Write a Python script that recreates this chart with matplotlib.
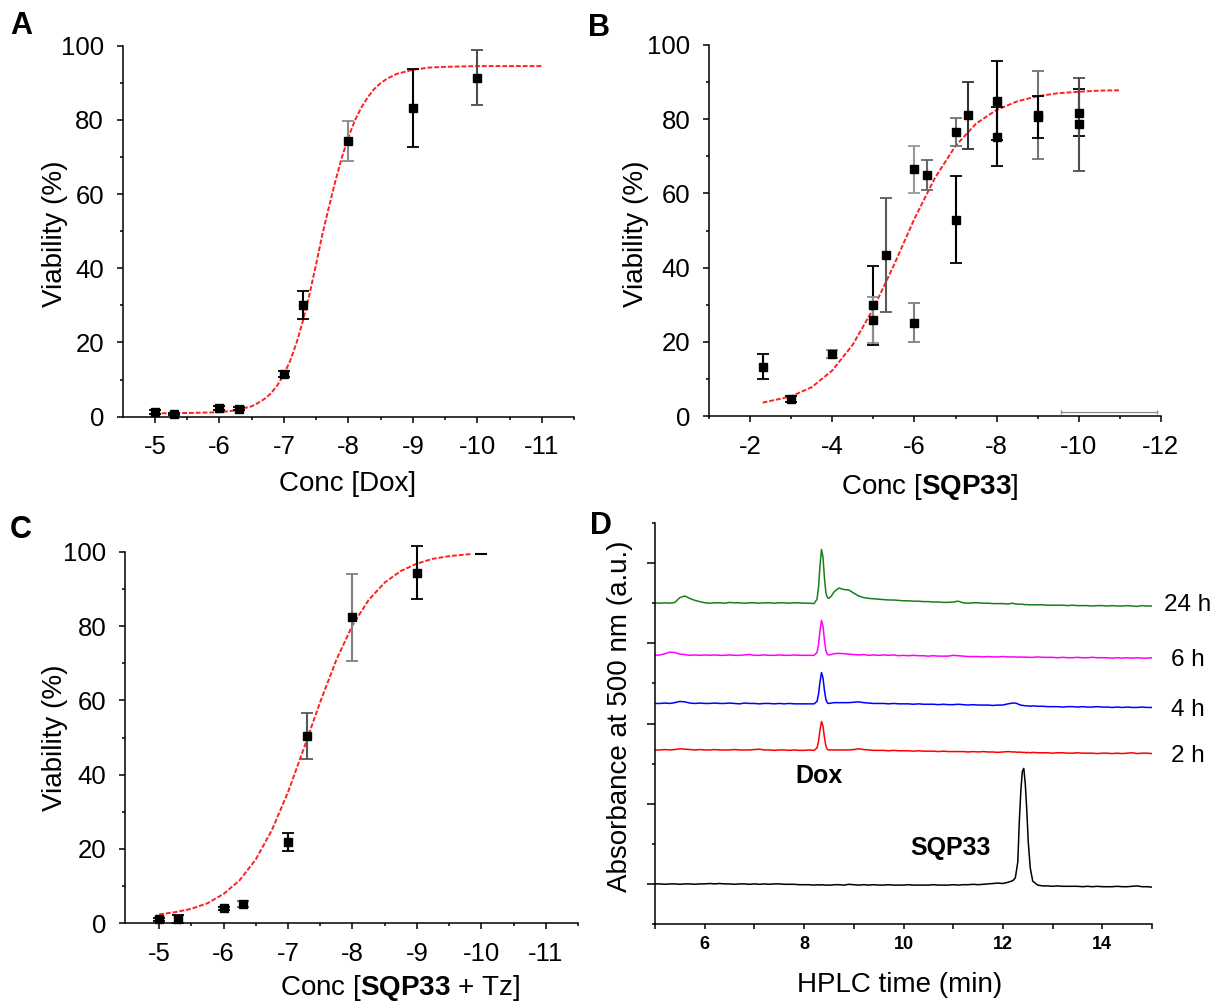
import matplotlib
matplotlib.use("Agg")
import matplotlib.pyplot as plt
from matplotlib.ticker import MultipleLocator, FixedLocator, NullFormatter

plt.rcParams['font.family'] = ['Liberation Sans', 'DejaVu Sans']
plt.rcParams['mathtext.fontset'] = 'custom'
plt.rcParams['mathtext.rm'] = 'Liberation Sans'
plt.rcParams['mathtext.bf'] = 'Liberation Sans:bold'

# ---------------- data ----------------
# Panel A (Dox)
a_x = [-5, -5.3, -6, -6.3, -7, -7.3, -8, -9, -10]
a_y = [1.2, 0.7, 2.4, 2.2, 11.4, 30.0, 74.3, 83.2, 91.4]
a_err = [0.5, 0.3, 0.5, 0.5, 0.8, 3.8, 5.5, 10.4, 7.4]
a_errcol = ['k', 'k', 'k', 'k', 'k', 'k', '0.55', 'k', '0.3']
a_fit_x = [-5, -5.5, -6, -6.25, -6.5, -6.6, -6.7, -6.8, -6.9, -7, -7.1, -7.2, -7.3,
           -7.4, -7.5, -7.6, -7.7, -7.8, -7.9, -8, -8.1, -8.2, -8.3, -8.4, -8.5,
           -8.6, -8.75, -9, -9.25, -9.5, -10, -10.5, -11]
a_fit_y = [0.9, 1.0, 1.2, 1.7, 2.8, 3.7, 4.8, 6.3, 8.5, 11.4, 15.2, 20.1, 26.1,
           33.2, 41.1, 49.4, 56.6, 63.6, 69.9, 75.3, 79.8, 83.3, 86.1, 88.3, 89.9,
           91.1, 92.4, 93.5, 94.1, 94.3, 94.5, 94.5, 94.5]

# Panel B (SQP33)
b_x = [-2.3, -3, -4, -5, -5, -5.3, -6, -6, -6.3, -7, -7, -7.3, -8, -8, -9, -9, -10, -10]
b_y = [13.3, 4.7, 16.7, 29.8, 25.9, 43.4, 66.5, 25.2, 64.9, 76.5, 52.9, 81.1,
       85.0, 75.3, 81.2, 80.6, 81.8, 78.6]
b_err = [3.3, 0.8, 1.2, 10.6, 6.3, 15.3, 6.3, 5.2, 4.1, 3.8, 11.7, 9.0,
         10.7, 8.0, 11.8, 5.6, 6.3, 12.6]
b_errcol = ['k', 'k', '0.5', 'k', '0.55', '0.35', '0.6', '0.5', '0.4', '0.45', 'k', '0.2',
            'k', 'k', '0.45', 'k', 'k', '0.3']
b_fit_x = [-2.3, -3, -3.5, -4, -4.5, -5, -5.5, -6, -6.5, -7, -7.5, -8,
           -8.5, -9, -9.5, -10, -10.5, -11]
b_fit_y = [3.6, 5.3, 7.8, 12.3, 19.3, 29.0, 40.7, 53.2, 64.2, 72.8, 78.8, 82.5,
           84.8, 86.2, 87.0, 87.4, 87.7, 87.8]
b_blank_x = [-9.58, -11.92]
b_blank_y = [1.0, 1.0]

# Panel C (SQP33 + Tz)
c_x = [-5, -5.3, -6, -6.3, -7, -7.3, -8, -9]
c_y = [1.1, 1.1, 4.0, 5.2, 21.9, 50.4, 82.3, 94.3]
c_err = [0.4, 1.0, 0.4, 0.9, 2.4, 6.3, 11.8, 7.1]
c_errcol = ['k', 'k', 'k', '0.4', 'k', '0.35', '0.5', 'k']
c_dash_x = [-10]
c_dash_y = [99.4]
c_fit_x = [-5, -5.25, -5.5, -5.75, -6, -6.25, -6.5, -6.75, -7, -7.25, -7.5, -7.75,
           -8, -8.25, -8.5, -8.75, -9, -9.25, -9.5, -9.85]
c_fit_y = [2.4, 3.0, 3.9, 5.4, 7.9, 11.6, 17.2, 25.1, 35.3, 47.3, 59.6, 70.9,
           80.2, 87.0, 91.7, 94.8, 96.8, 98.1, 98.8, 99.4]

# Panel D (HPLC traces), common time grid (min)
hplc_t = [5.0, 5.1, 5.2, 5.3, 5.4, 5.5, 5.6, 5.7, 5.8, 5.9, 6.0, 6.1, 6.2, 6.3, 6.4,
          6.5, 6.6, 6.7, 6.8, 6.9, 7.0, 7.1, 7.2, 7.3, 7.4, 7.5, 7.6, 7.7, 7.8, 7.9,
          8.0, 8.1, 8.2,
          8.26, 8.29, 8.32, 8.35, 8.38, 8.41, 8.44, 8.47, 8.5, 8.55,
          8.6, 8.7, 8.8, 8.9, 9.0, 9.1, 9.2, 9.3, 9.4, 9.5, 9.6, 9.7, 9.8, 9.9,
          10.0, 10.1, 10.2, 10.3, 10.4, 10.5, 10.6, 10.7, 10.8, 10.9, 11.0, 11.1,
          11.2, 11.3, 11.4, 11.5, 11.6, 11.7, 11.8, 11.9, 12.0,
          12.1, 12.2, 12.25, 12.3, 12.33, 12.36, 12.39, 12.42, 12.45, 12.48, 12.51,
          12.55, 12.6, 12.7,
          12.8, 12.9, 13.0, 13.1, 13.2, 13.3, 13.4, 13.5, 13.6, 13.7, 13.8, 13.9,
          14.0, 14.1, 14.2, 14.3, 14.4, 14.5, 14.6, 14.7, 14.8, 14.9, 15.0]

trace_24h = [8.01, 8.00, 8.01, 8.00, 8.02, 8.14, 8.18, 8.12, 8.07, 8.04, 8.01, 8.00, 8.01, 8.01, 8.00,
             8.02, 8.01, 8.01, 8.00, 8.01, 8.01, 8.00, 8.01, 8.01, 8.00, 8.01, 8.01, 8.00, 8.01, 8.01,
             8.00, 8.00, 7.99,
             8.10, 8.40, 8.95, 9.34, 9.15, 8.62, 8.25, 8.14, 8.12, 8.18,
             8.28, 8.38, 8.34, 8.33, 8.25, 8.18, 8.14, 8.12, 8.11, 8.10, 8.09, 8.08, 8.08, 8.07,
             8.06, 8.06, 8.05, 8.05, 8.04, 8.04, 8.03, 8.03, 8.02, 8.02, 8.03, 8.05,
             8.01, 8.00, 8.01, 8.01, 8.00, 8.00, 7.99, 7.99, 7.99,
             7.98, 8.00, 7.98, 7.98, 7.97, 7.98, 7.97, 7.97, 7.96, 7.97, 7.96,
             7.96, 7.96, 7.96,
             7.96, 7.95, 7.95, 7.95, 7.95, 7.94, 7.95, 7.94, 7.94, 7.94, 7.93, 7.94,
             7.94, 7.93, 7.94, 7.93, 7.93, 7.94, 7.93, 7.92, 7.94, 7.93, 7.93]

trace_6h = [6.70, 6.71, 6.74, 6.78, 6.77, 6.73, 6.72, 6.70, 6.71, 6.70, 6.71, 6.70, 6.71, 6.70, 6.70,
            6.71, 6.70, 6.70, 6.71, 6.72, 6.70, 6.70, 6.71, 6.70, 6.70, 6.71, 6.70, 6.70, 6.71, 6.70,
            6.70, 6.70, 6.70,
            6.77, 6.96, 7.32, 7.57, 7.43, 7.07, 6.81, 6.72, 6.71, 6.72,
            6.74, 6.75, 6.74, 6.73, 6.72, 6.71, 6.72, 6.70, 6.71, 6.70, 6.71, 6.70, 6.71, 6.69,
            6.70, 6.69, 6.70, 6.69, 6.69, 6.68, 6.69, 6.68, 6.68, 6.68, 6.70, 6.69,
            6.68, 6.67, 6.67, 6.67, 6.66, 6.67, 6.66, 6.66, 6.67,
            6.66, 6.66, 6.66, 6.65, 6.66, 6.66, 6.65, 6.66, 6.65, 6.66, 6.65,
            6.65, 6.65, 6.66,
            6.65, 6.65, 6.65, 6.64, 6.65, 6.64, 6.64, 6.65, 6.64, 6.64, 6.65, 6.64,
            6.64, 6.64, 6.63, 6.64, 6.63, 6.64, 6.63, 6.64, 6.63, 6.63, 6.64]

trace_4h = [5.50, 5.50, 5.51, 5.50, 5.52, 5.55, 5.54, 5.51, 5.50, 5.51, 5.50, 5.50, 5.51, 5.50, 5.50,
            5.51, 5.50, 5.49, 5.51, 5.50, 5.50, 5.49, 5.50, 5.50, 5.49, 5.50, 5.49, 5.50, 5.49, 5.49,
            5.49, 5.49, 5.49,
            5.55, 5.73, 6.04, 6.27, 6.14, 5.82, 5.59, 5.51, 5.50, 5.51,
            5.52, 5.52, 5.52, 5.52, 5.53, 5.54, 5.52, 5.51, 5.50, 5.50, 5.50, 5.49, 5.50, 5.49,
            5.49, 5.49, 5.48, 5.49, 5.48, 5.48, 5.48, 5.47, 5.48, 5.47, 5.47, 5.48,
            5.47, 5.46, 5.47, 5.46, 5.46, 5.46, 5.45, 5.46, 5.46,
            5.49, 5.51, 5.51, 5.49, 5.47, 5.46, 5.45, 5.45, 5.44, 5.44, 5.44,
            5.43, 5.44, 5.43,
            5.43, 5.42, 5.42, 5.42, 5.41, 5.42, 5.42, 5.41, 5.42, 5.41, 5.41, 5.42,
            5.41, 5.41, 5.40, 5.41, 5.40, 5.41, 5.40, 5.40, 5.41, 5.40, 5.40]

trace_2h = [4.34, 4.34, 4.35, 4.34, 4.35, 4.37, 4.36, 4.35, 4.34, 4.35, 4.34, 4.34, 4.35, 4.34, 4.34,
            4.34, 4.35, 4.34, 4.34, 4.34, 4.35, 4.36, 4.34, 4.34, 4.33, 4.34, 4.34, 4.33, 4.34, 4.33,
            4.33, 4.34, 4.33,
            4.39, 4.55, 4.84, 5.05, 4.94, 4.64, 4.43, 4.35, 4.34, 4.34,
            4.34, 4.34, 4.34, 4.34, 4.35, 4.37, 4.35, 4.34, 4.33, 4.33, 4.33, 4.32, 4.33, 4.32,
            4.32, 4.32, 4.31, 4.32, 4.31, 4.31, 4.31, 4.30, 4.31, 4.30, 4.30, 4.30,
            4.30, 4.29, 4.30, 4.29, 4.30, 4.29, 4.29, 4.28, 4.29,
            4.30, 4.29, 4.29, 4.28, 4.29, 4.28, 4.28, 4.28, 4.28, 4.27, 4.28,
            4.27, 4.28, 4.27,
            4.27, 4.27, 4.26, 4.27, 4.27, 4.26, 4.26, 4.27, 4.26, 4.26, 4.26, 4.25,
            4.26, 4.26, 4.25, 4.26, 4.25, 4.26, 4.27, 4.25, 4.26, 4.26, 4.25]

trace_sqp33 = [1.00, 1.00, 0.99, 1.00, 1.00, 0.99, 1.00, 1.00, 0.99, 1.00, 1.00, 1.01, 1.00, 1.01, 1.00,
               1.00, 0.99, 1.00, 1.00, 0.99, 1.00, 0.99, 1.00, 0.99, 1.00, 1.00, 0.99, 0.99, 0.99, 0.98,
               0.98, 0.98, 0.97,
               0.98, 0.97, 0.98, 0.97, 0.98, 0.97, 0.97, 0.97, 0.97, 0.97,
               0.98, 0.98, 0.97, 0.99, 0.98, 0.97, 0.98, 0.97, 0.98, 0.97, 0.97, 0.98, 0.97, 0.97,
               0.97, 0.98, 0.97, 0.97, 0.97, 0.97, 0.98, 0.97, 0.97, 0.97, 0.98, 0.97,
               0.98, 0.98, 0.99, 0.98, 0.99, 1.00, 1.01, 1.02, 1.01,
               1.04, 1.08, 1.15, 1.55, 2.55, 3.30, 3.80, 3.88, 3.50, 2.85, 2.05,
               1.40, 1.07, 0.97,
               0.95, 0.95, 0.94, 0.95, 0.94, 0.94, 0.94, 0.94, 0.93, 0.94, 0.93, 0.94,
               0.93, 0.93, 0.93, 0.94, 0.93, 0.93, 0.94, 0.95, 0.93, 0.93, 0.92]

trace_labels = ['24 h', '6 h', '4 h', '2 h']
trace_colors = ['#1a7f1a', '#ff00ff', '#0000ff', '#ff0000']

# ---------------- figure ----------------
W, H = 1225, 1008
fig = plt.figure(figsize=(W / 100, H / 100), dpi=100)


def ax_px(left, top, right, bottom):
    return fig.add_axes([left / W, 1 - bottom / H, (right - left) / W, (bottom - top) / H])


def style(ax):
    for s in ['top', 'right']:
        ax.spines[s].set_visible(False)
    for s in ['left', 'bottom']:
        ax.spines[s].set_linewidth(1.1)
    ax.tick_params(which='major', direction='out', length=4.5, width=1.1, labelsize=18.5, pad=9)
    ax.tick_params(which='minor', direction='out', length=2.5, width=1.1)


def dose_panel(ax, xs, ys, errs, errcols, fx, fy, xlim, major, minor):
    ax.plot(fx, fy, color='#ff2020', lw=1.4, ls=(0, (2.5, 1.0)), zorder=2, clip_on=False)
    for x, y, e, c in zip(xs, ys, errs, errcols):
        ax.errorbar([x], [y], yerr=[e], fmt='none', ecolor=c, elinewidth=1.5,
                    capsize=4, capthick=1.3, zorder=3, clip_on=False)
    ax.plot(xs, ys, 's', color='k', ms=5.5, zorder=4, clip_on=False)
    ax.set_xlim(*xlim)
    ax.set_ylim(0, 100)
    ax.xaxis.set_major_locator(FixedLocator(major))
    ax.xaxis.set_minor_locator(FixedLocator(minor))
    ax.set_xticklabels([str(v) for v in major])
    ax.yaxis.set_major_locator(MultipleLocator(20))
    ax.yaxis.set_minor_locator(MultipleLocator(10))
    style(ax)


# Panel A
axA = ax_px(122.7, 45.7, 574, 416.7)
dose_panel(axA, a_x, a_y, a_err, a_errcol, a_fit_x, a_fit_y, (-4.5, -11.5),
           [-5, -6, -7, -8, -9, -10, -11], [-5.5, -6.5, -7.5, -8.5, -9.5, -10.5, -11.5])

# Panel B
axB = ax_px(709.3, 45.0, 1160.7, 416.0)
dose_panel(axB, b_x, b_y, b_err, b_errcol, b_fit_x, b_fit_y, (-1, -12),
           [-2, -4, -6, -8, -10, -12], [-1, -3, -5, -7, -9, -11])
axB.plot(b_blank_x, b_blank_y, color='0.55', lw=0.9, marker='|', ms=3, zorder=1)

# Panel C
axC = ax_px(125, 551.7, 578, 923.3)
dose_panel(axC, c_x, c_y, c_err, c_errcol, c_fit_x, c_fit_y, (-4.47, -11.5),
           [-5, -6, -7, -8, -9, -10, -11], [-5.5, -6.5, -7.5, -8.5, -9.5, -10.5, -11.5])
axC.plot(c_dash_x, c_dash_y, '_', color='k', ms=9, mew=1.5, clip_on=False)

# Panel D
axD = ax_px(655, 523, 1152, 924)
for ys, col in zip([trace_24h, trace_6h, trace_4h, trace_2h], trace_colors):
    axD.plot(hplc_t, ys, color=col, lw=1.1)
axD.plot(hplc_t, trace_sqp33, color='k', lw=1.1)
axD.set_xlim(5, 15)
axD.set_ylim(0, 10)
axD.xaxis.set_major_locator(FixedLocator([6, 8, 10, 12, 14]))
axD.xaxis.set_minor_locator(FixedLocator([5, 7, 9, 11, 13, 15]))
axD.yaxis.set_major_locator(FixedLocator([1, 3, 5, 7, 9]))
axD.yaxis.set_minor_locator(FixedLocator([0, 2, 4, 6, 8, 10]))
axD.yaxis.set_major_formatter(NullFormatter())
style(axD)
axD.tick_params(axis='x', which='both', length=3.5, labelsize=13, pad=5)
axD.tick_params(axis='y', which='major', length=5.5)
axD.tick_params(axis='y', which='minor', length=2.5)
for lab in axD.get_xticklabels():
    lab.set_fontweight('bold')

label_pos_x = [15.24, 15.38, 15.38, 15.38]
label_pos_y = [7.96, 6.58, 5.34, 4.19]
for txt, lx, ly in zip(trace_labels, label_pos_x, label_pos_y):
    axD.text(lx, ly, txt, fontsize=17.5, ha='left', va='center', clip_on=False)
axD.text(8.29, 3.69, 'Dox', fontsize=18, fontweight='bold', ha='center', va='center')
axD.text(10.95, 1.90, 'SQP33', fontsize=18, fontweight='bold', ha='center', va='center')


def ftext(x, y, s, **kw):
    fig.text(x / W, 1 - y / H, s, **kw)


# axis labels
lab_kw = dict(fontsize=20, ha='center', va='center')
ftext(55, 234, 'Viability (%)', rotation=90, **lab_kw)
ftext(636, 234, 'Viability (%)', rotation=90, **lab_kw)
ftext(55, 738, 'Viability (%)', rotation=90, **lab_kw)
ftext(620, 716, 'Absorbance at 500 nm (a.u.)', rotation=90, **lab_kw)
ftext(348, 484, 'Conc [Dox]', **lab_kw)
ftext(930, 487, r'Conc [$\mathbf{SQP33}$]', **lab_kw)
ftext(400, 988, r'Conc [$\mathbf{SQP33}$ + Tz]', **lab_kw)
ftext(900, 985, 'HPLC time (min)', **lab_kw)

# panel letters
pl_kw = dict(fontsize=22, fontweight='bold', ha='left', va='center')
ftext(10, 26, 'A', **pl_kw)
ftext(588, 28, 'B', **pl_kw)
ftext(10, 530, 'C', **pl_kw)
ftext(590, 526, 'D', **pl_kw)

fig.savefig('out.png', dpi=100, facecolor='white')
